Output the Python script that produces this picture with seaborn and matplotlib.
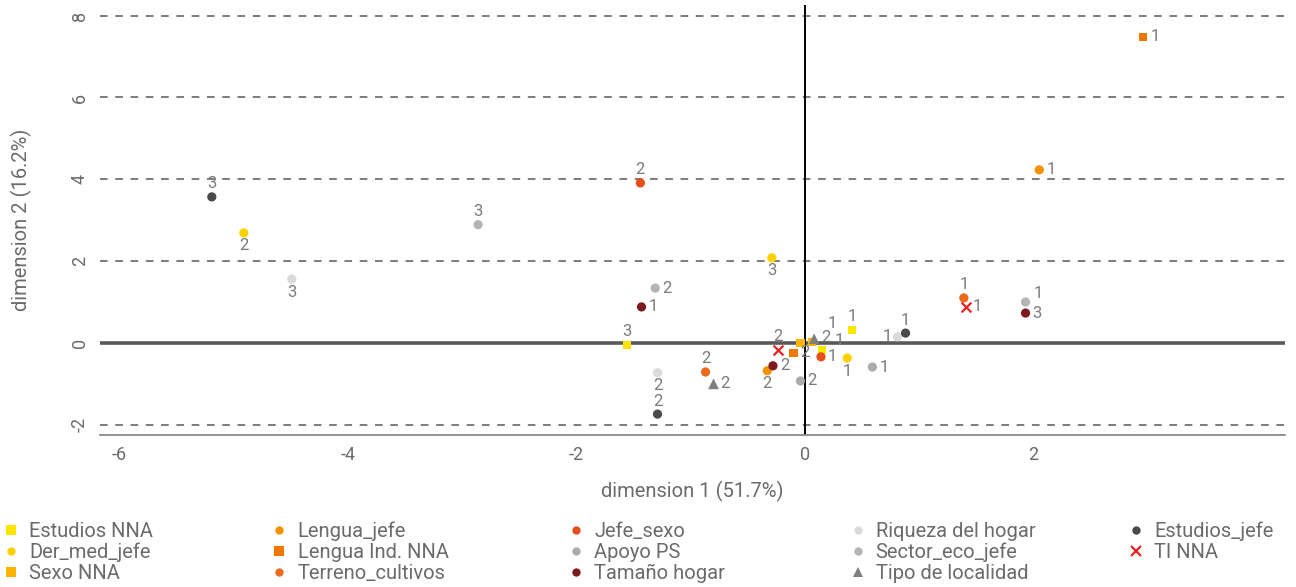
import matplotlib
matplotlib.use("Agg")
import matplotlib.pyplot as plt
import seaborn as sns
import pandas as pd
from matplotlib.lines import Line2D

# ---------------- data ----------------
var_names = [
    "Estudios NNA", "Estudios NNA", "Estudios NNA",
    "Der_med_jefe", "Der_med_jefe", "Der_med_jefe",
    "Sexo NNA", "Sexo NNA",
    "Lengua_jefe", "Lengua_jefe",
    "Lengua Ind. NNA", "Lengua Ind. NNA",
    "Terreno_cultivos", "Terreno_cultivos",
    "Jefe_sexo", "Jefe_sexo",
    "Apoyo PS", "Apoyo PS",
    "Tamaño hogar", "Tamaño hogar", "Tamaño hogar",
    "Riqueza del hogar", "Riqueza del hogar", "Riqueza del hogar",
    "Sector_eco_jefe", "Sector_eco_jefe", "Sector_eco_jefe",
    "Tipo de localidad", "Tipo de localidad",
    "Estudios_jefe", "Estudios_jefe", "Estudios_jefe",
    "TI NNA", "TI NNA",
]
dim1 = [
    -1.56, 0.41, 0.15,
    -4.91, -0.29, 0.37,
    -0.04, 0.06,
    2.05, -0.33,
    2.96, -0.10,
    1.39, -0.87,
    -1.44, 0.14,
    0.59, -0.04,
    -1.43, -0.28, 1.93,
    -4.49, -1.29, 0.81,
    -2.86, -1.31, 1.93,
    -0.80, 0.08,
    -5.19, -1.29, 0.88,
    -0.24, 1.41,
]
dim2 = [
    -0.05, 0.32, -0.17,
    2.69, 2.08, -0.37,
    0.00, 0.02,
    4.23, -0.68,
    7.48, -0.24,
    1.10, -0.71,
    3.91, -0.34,
    -0.59, -0.93,
    0.88, -0.56, 0.73,
    1.56, -0.73, 0.15,
    2.89, 1.34, 1.00,
    -1.00, 0.10,
    3.57, -1.74, 0.24,
    -0.17, 0.88,
]
cat_labels = [
    "3", "1", "2",
    "2", "3", "1",
    "1", "2",
    "1", "2",
    "1", "2",
    "1", "2",
    "2", "1",
    "1", "2",
    "1", "2", "3",
    "3", "2", "1",
    "3", "2", "1",
    "2", "1",
    "3", "2", "1",
    "2", "1",
]
# label placement relative to the point
label_place = [
    "a", "a", "n",
    "b", "b", "b",
    "s1", "s2",
    "r", "b",
    "r", "r",
    "a", "a",
    "a", "r",
    "r", "r",
    "r", "r", "r",
    "b", "b", "l",
    "a", "r", "ar",
    "r", "t1",
    "a", "a", "a",
    "a", "r",
]

legend_order = [
    "Estudios NNA", "Der_med_jefe", "Sexo NNA",
    "Lengua_jefe", "Lengua Ind. NNA", "Terreno_cultivos",
    "Jefe_sexo", "Apoyo PS", "Tamaño hogar",
    "Riqueza del hogar", "Sector_eco_jefe", "Tipo de localidad",
    "Estudios_jefe", "TI NNA",
]

colors = {
    "Estudios NNA": "#FFE600", "Der_med_jefe": "#FFD000", "Sexo NNA": "#FFB400",
    "Lengua_jefe": "#F39200", "Lengua Ind. NNA": "#F07800", "Terreno_cultivos": "#EB6A1C",
    "Jefe_sexo": "#E84E1B", "Apoyo PS": "#ABABAB", "Tamaño hogar": "#7D1A1D",
    "Riqueza del hogar": "#DADADA", "Sector_eco_jefe": "#B4B4B4", "Tipo de localidad": "#7F7F7F",
    "Estudios_jefe": "#4A4A4A", "TI NNA": "#E52320",
}
markers = {
    "Estudios NNA": "s", "Der_med_jefe": "o", "Sexo NNA": "s",
    "Lengua_jefe": "o", "Lengua Ind. NNA": "s", "Terreno_cultivos": "o",
    "Jefe_sexo": "o", "Apoyo PS": "o", "Tamaño hogar": "o",
    "Riqueza del hogar": "o", "Sector_eco_jefe": "o", "Tipo de localidad": "^",
    "Estudios_jefe": "o", "TI NNA": "x",
}
sizes = {"s": 36, "o": 44, "^": 60, "x": 50}

df = pd.DataFrame({"variable": var_names, "dim1": dim1, "dim2": dim2,
                   "cat": cat_labels, "place": label_place})

sns.set_theme(style="white")
plt.rcParams["font.family"] = ["Roboto", "DejaVu Sans"]
TXT = "#6b6b6b"

fig = plt.figure(figsize=(12.96, 5.87), dpi=100)
ax = fig.add_axes([0.077, 0.259, 0.9145, 0.7325])

for y in [-2, 2, 4, 6, 8]:
    ax.axhline(y, color="#595959", lw=1.1, ls=(0, (5, 5)), zorder=1)
ax.axhline(0, color="#595959", lw=2.6, zorder=2)
ax.axvline(0, color="black", lw=1.4, zorder=2)

for var in legend_order:
    sub = df[df["variable"] == var]
    m = markers[var]
    sns.scatterplot(data=sub, x="dim1", y="dim2", ax=ax, color=colors[var],
                    marker=m, s=sizes[m], edgecolor="none" if m != "x" else None,
                    linewidth=0 if m != "x" else 1.6, legend=False, zorder=5)

offsets = {"a": (0, 4), "b": (0, -4), "r": (5, 0), "l": (-4, 0), "ar": (6, 6),
           "t1": (13, 11), "s2": (10, 3.5), "s1": (28, 1.5)}
ha_map = {"a": "center", "b": "center", "r": "left", "l": "right", "ar": "left",
          "t1": "center", "s2": "center", "s1": "center"}
va_map = {"a": "bottom", "b": "top", "r": "center", "l": "center", "ar": "center",
          "t1": "center", "s2": "center", "s1": "center"}
for _, r in df.iterrows():
    if r["place"] == "n":
        continue
    ax.annotate(r["cat"], (r["dim1"], r["dim2"]), xytext=offsets[r["place"]],
                textcoords="offset points", ha=ha_map[r["place"]], va=va_map[r["place"]],
                fontsize=12, color="#7a7a7a", zorder=6)

ax.set_xlim(-6.17, 4.2)
ax.set_ylim(-2.25, 8.26)
ax.set_xticks([-6, -4, -2, 0, 2])
ax.set_yticks([-2, 0, 2, 4, 6, 8])
ax.set_xticklabels(["-6", "-4", "-2", "0", "2"])
ax.set_yticklabels(["-2", "0", "2", "4", "6", "8"], rotation=90, va="center")
ax.tick_params(axis="both", labelsize=13, colors=TXT, length=0, pad=8)
for s in ["top", "right", "left"]:
    ax.spines[s].set_visible(False)
ax.spines["bottom"].set_color("#7f7f7f")
ax.spines["bottom"].set_linewidth(1.2)
ax.set_xlabel("dimension 1 (51.7%)", fontsize=14.5, color=TXT, labelpad=12)
ax.set_ylabel("dimension 2 (16.2%)", fontsize=14.5, color=TXT, labelpad=28)
ax.grid(False)

# legend: five columns placed across the bottom
col_x = [0.004, 0.211, 0.440, 0.657, 0.872]
for ci in range(5):
    names = legend_order[ci * 3: ci * 3 + 3]
    handles = []
    for n in names:
        m = markers[n]
        ms = {"s": 7, "o": 6, "^": 7, "x": 7}[m]
        handles.append(Line2D([], [], ls="none", marker=m, color=colors[n],
                              markersize=ms, markeredgewidth=1.6 if m == "x" else 0))
    fig.legend(handles, names, loc="upper left", bbox_to_anchor=(col_x[ci], 0.111),
               frameon=False, fontsize=14.5, labelcolor=TXT, handlelength=0.6,
               handletextpad=0.6, labelspacing=0.1, borderaxespad=0, borderpad=0)

fig.savefig("out.png", dpi=100)
